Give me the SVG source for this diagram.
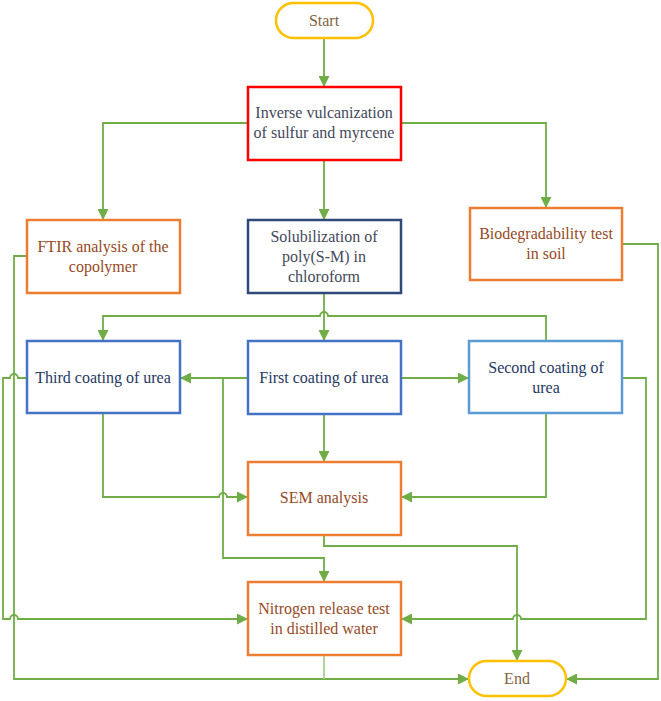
<svg xmlns="http://www.w3.org/2000/svg" width="661" height="701" viewBox="0 0 661 701">
<defs>
<marker id="arr" markerUnits="userSpaceOnUse" markerWidth="11" markerHeight="11" refX="10" refY="5" orient="auto" viewBox="0 0 10 10">
<path d="M0,0 L10,5 L0,10 z" fill="#70AD47"/>
</marker>
</defs>
<style>
.term{fill:#fff;stroke:#FFC000;stroke-width:2.5}
.red{fill:#fff;stroke:#FF0000;stroke-width:2.5}
.org{fill:#fff;stroke:#ED7D31;stroke-width:2.5}
.navy{fill:#fff;stroke:#2F4A7A;stroke-width:2.5}
.blue{fill:#fff;stroke:#4472C4;stroke-width:2.5}
.lblue{fill:#fff;stroke:#5B9BD5;stroke-width:2.5}
.tt{fill:#7F6440}
.to{fill:#974A1E}
.tb{fill:#1F3864}
.tg{fill:#44495A}
.c path{fill:none;stroke:#70AD47;stroke-width:1.8}
.c path.a{marker-end:url(#arr)}
</style>
<g class="c" id="connectors">
<path class="a" d="M324,38 V87"/>
<path class="a" d="M248,123 H103 V220"/>
<path class="a" d="M401,123 H546 V208"/>
<path class="a" d="M324,160 V220"/>
<path class="a" d="M324,293 V341"/>
<path class="a" d="M546,341 V316 H328 A4,4 0 0 0 320,316 H103 V341"/>
<path class="a" d="M248,378 H180"/>
<path class="a" d="M401,378 H469"/>
<path class="a" d="M248,378 H223 V558 H324 V582"/>
<path class="a" d="M103,413 V497 H219 A4,4 0 0 1 227,497 H248"/>
<path class="a" d="M324,414 V462"/>
<path class="a" d="M546,413 V497 H401"/>
<path class="a" d="M324,535 V546 H517 V661"/>
<path class="a" d="M622,378 H646 V619 H521 A4,4 0 0 0 513,619 H401"/>
<path class="a" d="M27,378 H18 A4,4 0 0 0 10,378 H3 V619 H10 A4,4 0 0 1 18,619 H248"/>
<path class="a" d="M27,256 H14 V679 H469"/>
<path d="M324,655 V679" style="stroke:#A9D18E"/>
<path class="a" d="M622,244 H658 V679 H566"/>
</g>
<g font-family="'Liberation Serif', 'Times New Roman', serif" font-size="16" text-anchor="middle">
<g id="start"><rect class="term" x="276" y="3" width="97" height="35" rx="17.5"/><text class="tt" x="324" y="26">Start</text></g>
<g id="inverse"><rect class="red" x="248" y="87" width="153" height="73"/><text class="tg" x="324" y="118">Inverse vulcanization</text><text class="tg" x="324" y="138">of sulfur and myrcene</text></g>
<g id="ftir"><rect class="org" x="27" y="220" width="153" height="73"/><text class="to" x="103" y="252">FTIR analysis of the</text><text class="to" x="103" y="272">copolymer</text></g>
<g id="solub"><rect class="navy" x="248" y="220" width="153" height="73"/><text class="tg" x="324" y="242">Solubilization of</text><text class="tg" x="324" y="262">poly(S-M) in</text><text class="tg" x="324" y="282">chloroform</text></g>
<g id="bio"><rect class="org" x="470" y="208" width="152" height="72"/><text class="to" x="546" y="239">Biodegradability test</text><text class="to" x="546" y="259">in soil</text></g>
<g id="third"><rect class="blue" x="27" y="341" width="153" height="72"/><text class="tb" x="103" y="383">Third coating of urea</text></g>
<g id="first"><rect class="blue" x="248" y="341" width="153" height="73"/><text class="tb" x="324" y="383">First coating of urea</text></g>
<g id="second"><rect class="lblue" x="469" y="341" width="153" height="72"/><text class="tb" x="546" y="373">Second coating of</text><text class="tb" x="546" y="393">urea</text></g>
<g id="sem"><rect class="org" x="248" y="462" width="153" height="73"/><text class="to" x="324" y="503">SEM analysis</text></g>
<g id="nitrogen"><rect class="org" x="248" y="582" width="153" height="73"/><text class="to" x="324" y="614">Nitrogen release test</text><text class="to" x="324" y="634">in distilled water</text></g>
<g id="end"><rect class="term" x="469" y="661" width="97" height="35" rx="17.5"/><text class="tt" x="517" y="684">End</text></g>
</g>
</svg>
